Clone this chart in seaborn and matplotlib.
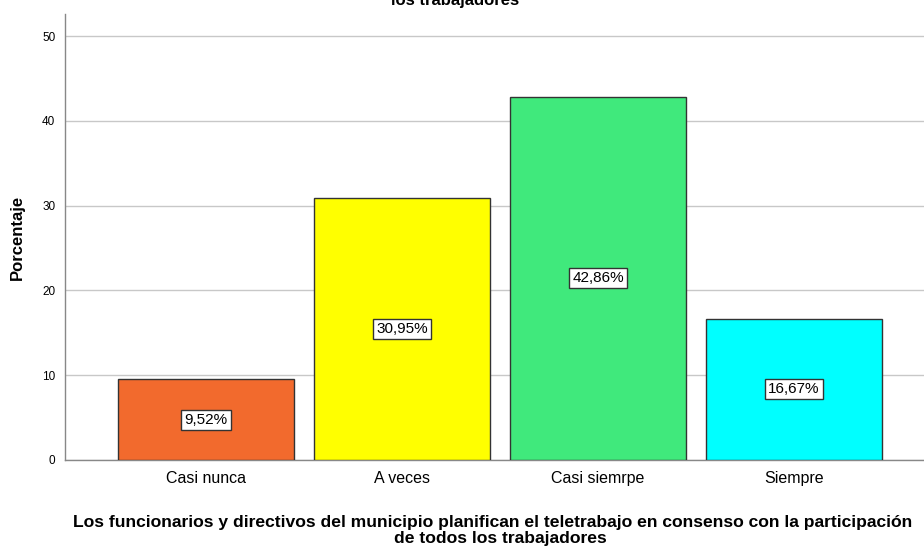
import matplotlib
matplotlib.use("Agg")
import matplotlib.pyplot as plt
import seaborn as sns
import pandas as pd

categories = ["Casi nunca", "A veces", "Casi siemrpe", "Siempre"]
values = [9.52, 30.95, 42.86, 16.67]
labels = ["9,52%", "30,95%", "42,86%", "16,67%"]
colors = ["#F26A2D", "#FFFF00", "#40E97C", "#00FFFF"]
yticks = [0, 10, 20, 30, 40, 50]

sns.set_theme(style="white")
plt.rcParams['font.family'] = ['Liberation Sans', 'DejaVu Sans']
plt.rcParams['text.color'] = 'black'
plt.rcParams['axes.labelcolor'] = 'black'
plt.rcParams['xtick.color'] = 'black'
plt.rcParams['ytick.color'] = 'black'

df = pd.DataFrame({"cat": categories, "val": values})

fig = plt.figure(figsize=(9.24, 5.46), dpi=100)
ax = fig.add_axes([65/924, 86/546, 1 - 65/924, (460-14)/546])

sns.barplot(data=df, x="cat", y="val", hue="cat", palette=colors, legend=False,
            width=176/196, edgecolor="#333333", linewidth=1.0, ax=ax, zorder=3, saturation=1)

ax.set_xlim(-0.719, 3.663)
ax.set_ylim(0, 52.6)
ax.set_yticks(yticks)
ax.set_yticklabels([str(t) for t in yticks], fontsize=8.5)
ax.tick_params(axis='y', length=0, pad=7)
ax.tick_params(axis='x', length=0, labelsize=11.5, pad=8)
ax.yaxis.grid(True, color="#C8C8C8", linewidth=1.0, zorder=0)
ax.set_axisbelow(True)
for s in ["top", "right"]:
    ax.spines[s].set_visible(False)
for s in ["left", "bottom"]:
    ax.spines[s].set_color("#888888")
    ax.spines[s].set_linewidth(1.0)

for i, (v, lab) in enumerate(zip(values, labels)):
    ax.text(i, v / 2, lab, ha="center", va="center", fontsize=11, zorder=5,
            bbox=dict(boxstyle="square,pad=0.2", facecolor="white", edgecolor="#333333", linewidth=1.0))

ax.set_ylabel("Porcentaje", fontsize=12, fontweight="bold", labelpad=12)
ax.set_xlabel("")

fig.text(73/924, 1 - 522/546, "Los funcionarios y directivos del municipio planifican el teletrabajo en consenso con la participación",
         ha="left", va="center", fontsize=12.6, fontweight="bold")
fig.text(500/924, 1 - 538/546, "de todos los trabajadores",
         ha="center", va="center", fontsize=12.6, fontweight="bold")
fig.text(455/924, 1 - 1/546, "los trabajadores", ha="center", va="center",
         fontsize=12, fontweight="bold")

fig.savefig("out.png", dpi=100)
